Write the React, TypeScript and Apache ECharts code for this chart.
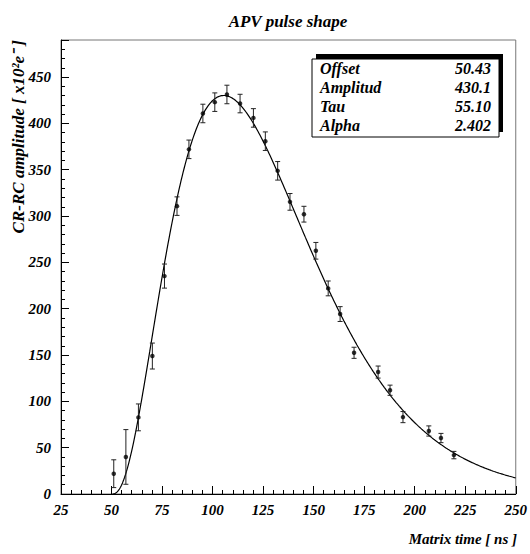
import React, { useEffect, useRef } from "react";
import * as echarts from "echarts";

// Measured points (time in ns, amplitude in x10^2 e-, error)
const times = [51.1, 57.1, 63.3, 70.2, 76.2, 82.4, 88.3, 95.2, 101.1, 107.1, 113.6, 120.2, 126.1, 132.2, 138.3, 145.2, 151.1, 157.2, 163.1, 170.0, 181.9, 187.8, 194.2, 207.0, 213.0, 219.4];
const amplitudes = [21.9, 40, 82.7, 148.9, 235.2, 310.7, 372, 410.7, 422.9, 431.2, 421.4, 405.9, 380.8, 348.8, 315.3, 302, 262.5, 221.9, 194.2, 152.4, 131.6, 112, 83, 68, 60.4, 42];
const errors = [15, 29.5, 14.5, 14, 13, 10, 10, 10, 10, 10, 10, 10, 10, 10, 9, 8.5, 9, 8, 8, 6, 6.5, 5.5, 6, 5.5, 5, 4];

// Fit parameters (from stats box)
const statNames = ["Offset", "Amplitud", "Tau", "Alpha"];
const statValues = ["50.43", "430.1", "55.10", "2.402"];
const fitOffset = 50.43;
const fitAmplitude = 430.1;
const fitTau = 55.1;
const fitAlpha = 2.402;

function fitValue(t: number): number {
  const x = (t - fitOffset) / fitTau;
  return x <= 0 ? 0 : fitAmplitude * Math.pow(x, fitAlpha) * Math.exp(-fitAlpha * (x - 1));
}

function fitCurve(): number[][] {
  const pts: number[][] = [];
  for (let t = fitOffset; t < 250; t += 0.5) pts.push([t, fitValue(t)]);
  pts.push([250, fitValue(250)]);
  return pts;
}

const FONT = "'Liberation Serif', 'Times New Roman', Times, serif";

export default function App() {
  const ref = useRef<HTMLDivElement>(null);
  useEffect(() => {
    if (!ref.current) return;
    const chart = echarts.init(ref.current, undefined, { renderer: "svg" });
    const pointData = times.map((t, i) => [t, amplitudes[i], errors[i]]);
    const labelStyle = { fontFamily: FONT, fontStyle: "italic" as const, fontWeight: "bold" as const, fontSize: 15, color: "#000" };
    const boxX = 312, boxY = 59, boxW = 187, boxH = 78;
    const rowYs = [68, 87, 106, 125];
    const statTexts: any[] = [];
    statNames.forEach((n, i) => {
      statTexts.push({ type: "text", x: 320, y: rowYs[i], z: 102, style: { text: n, fill: "#000", textAlign: "left", textVerticalAlign: "middle", fontFamily: FONT, fontStyle: "italic", fontWeight: "bold", fontSize: 16 } });
      statTexts.push({ type: "text", x: 491, y: rowYs[i], z: 102, style: { text: statValues[i], fill: "#000", textAlign: "right", textVerticalAlign: "middle", fontFamily: FONT, fontStyle: "italic", fontWeight: "bold", fontSize: 16 } });
    });
    chart.setOption({
      animation: false,
      backgroundColor: "#fff",
      title: {
        text: "APV pulse shape",
        left: 283,
        top: 8,
        textAlign: "center",
        textStyle: { fontFamily: FONT, fontStyle: "italic", fontWeight: "bold", fontSize: 17, color: "#000" },
      },
      grid: { left: 61, right: 13, top: 40, bottom: 60, show: true, borderColor: "#777", borderWidth: 1, backgroundColor: "transparent" },
      xAxis: {
        type: "value",
        min: 25,
        max: 250,
        interval: 25,
        axisLine: { show: true, onZero: false, lineStyle: { color: "#000", width: 1 } },
        axisTick: { show: true, inside: true, length: 8, lineStyle: { color: "#000" } },
        minorTick: { show: true, splitNumber: 5, length: 4, lineStyle: { color: "#000" } },
        splitLine: { show: false },
        axisLabel: { ...labelStyle, margin: 8 },
      },
      yAxis: {
        type: "value",
        min: 0,
        max: 490,
        interval: 50,
        axisLine: { show: true, onZero: false, lineStyle: { color: "#000", width: 1 } },
        axisTick: { show: true, inside: true, length: 8, lineStyle: { color: "#000" } },
        minorTick: { show: true, splitNumber: 5, length: 4, lineStyle: { color: "#000" } },
        splitLine: { show: false },
        axisLabel: { ...labelStyle, margin: 10, showMaxLabel: false, formatter: (v: number) => (v % 50 === 0 ? String(v) : "") },
      },
      graphic: [
        { type: "text", x: 18, y: 40, rotation: Math.PI / 2, style: { text: "CR-RC amplitude [ x10²e⁻ ]", fill: "#000", textAlign: "right", textVerticalAlign: "middle", fontFamily: FONT, fontStyle: "italic", fontWeight: "bold", fontSize: 17 } },
        { type: "text", x: 517, y: 539, style: { text: "Matrix time [ ns ]", fill: "#000", textAlign: "right", textVerticalAlign: "middle", fontFamily: FONT, fontStyle: "italic", fontWeight: "bold", fontSize: 15 } },
        { type: "rect", z: 100, shape: { x: boxX + 4, y: boxY - 5, width: boxW, height: boxH }, style: { fill: "#000" } },
        { type: "rect", z: 101, shape: { x: boxX, y: boxY, width: boxW, height: boxH }, style: { fill: "#fff", stroke: "#000", lineWidth: 1 } },
        ...statTexts,
      ],
      series: [
        {
          type: "line",
          data: fitCurve(),
          showSymbol: false,
          symbol: "none",
          lineStyle: { color: "#000", width: 1.2 },
          clip: true,
          z: 2,
        },
        {
          type: "custom",
          data: pointData,
          z: 3,
          renderItem: (params: any, api: any) => {
            const x = api.value(0), y = api.value(1), e = api.value(2);
            const top = api.coord([x, y + e]);
            const bot = api.coord([x, Math.max(0, y - e)]);
            const cw = 2.5;
            const st = { stroke: "#222", lineWidth: 1 };
            return {
              type: "group",
              children: [
                { type: "line", shape: { x1: top[0], y1: top[1], x2: bot[0], y2: bot[1] }, style: st },
                { type: "line", shape: { x1: top[0] - cw, y1: top[1], x2: top[0] + cw, y2: top[1] }, style: st },
                { type: "line", shape: { x1: bot[0] - cw, y1: bot[1], x2: bot[0] + cw, y2: bot[1] }, style: st },
              ],
            };
          },
        },
        {
          type: "scatter",
          data: pointData.map((d) => [d[0], d[1]]),
          symbol: "circle",
          symbolSize: 4.5,
          itemStyle: { color: "#000" },
          z: 4,
        },
      ],
    });
    return () => chart.dispose();
  }, []);
  return <div ref={ref} style={{ width: 530, height: 554, position: "absolute", left: 0, top: 0 }} />;
}
